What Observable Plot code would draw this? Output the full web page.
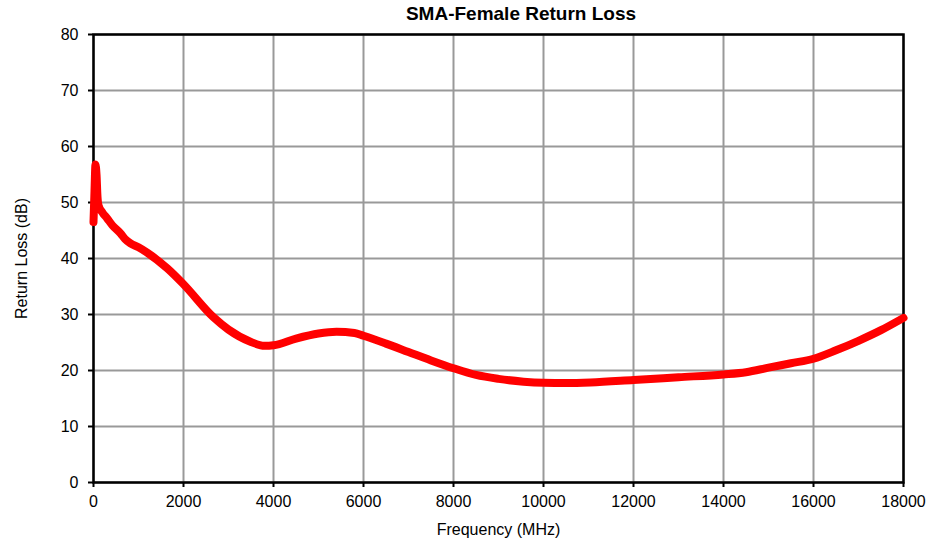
<!DOCTYPE html>
<html>
<head>
<meta charset="utf-8">
<script src="https://cdn.jsdelivr.net/npm/d3@7"></script>
<script src="https://cdn.jsdelivr.net/npm/@observablehq/plot@0.6"></script>
<style>
  html, body { margin: 0; padding: 0; background: #fff; }
  #wrap { width: 930px; height: 542px; position: relative; font-family: "Liberation Sans", Arial, sans-serif; }
  #title { height: 26px; box-sizing: border-box; padding-top: 4px; padding-left: 112px; text-align: center;
           font-weight: bold; font-size: 19px; line-height: 20px; color: #000; white-space: nowrap; }
</style>
</head>
<body>
<div id="wrap">
  <div id="title">SMA-Female Return Loss</div>
  <div id="chart"></div>
</div>
<script>
const title = "SMA-Female Return Loss";
const xLabel = "Frequency (MHz)";
const yLabel = "Return Loss (dB)";
const xTicks = [0, 2000, 4000, 6000, 8000, 10000, 12000, 14000, 16000, 18000];
const yTicks = [0, 10, 20, 30, 40, 50, 60, 70, 80];

const freq = [0, 22, 44, 67, 89, 111, 200, 300, 422, 600, 700, 822, 1000, 1200, 1644, 2000, 2667, 3000, 3500, 3800, 4000, 4500, 5000, 5400, 5800, 6000, 6500, 7000, 7500, 8000, 8500, 9000, 9556, 10000, 10500, 11044, 12000, 13000, 14000, 14500, 15000, 15500, 16000, 16500, 17000, 17500, 18000];
const returnLoss = [46.5, 52, 56.8, 55, 51, 49.5, 48.2, 47.2, 45.9, 44.5, 43.5, 42.7, 42, 41, 38.2, 35.4, 29.5, 27.3, 25.1, 24.4, 24.5, 25.7, 26.6, 26.9, 26.7, 26.2, 24.8, 23.3, 21.8, 20.4, 19.2, 18.5, 18.0, 17.8, 17.75, 17.85, 18.3, 18.8, 19.3, 19.7, 20.5, 21.3, 22.1, 23.6, 25.3, 27.2, 29.4];

const data = freq.map((f, i) => ({f, rl: returnLoss[i]}));

const chart = Plot.plot({
  width: 930,
  height: 516,
  marginLeft: 93,
  marginRight: 27,
  marginTop: 8,
  marginBottom: 60,
  style: { fontFamily: "'Liberation Sans', Arial, sans-serif", fontSize: "16px", color: "#000", background: "#fff" },
  x: { domain: [0, 18000], ticks: xTicks, tickFormat: d => String(d), label: null },
  y: { domain: [0, 80], ticks: yTicks, label: null },
  marks: [
    Plot.gridX(xTicks, { stroke: "#999", strokeOpacity: 1, strokeWidth: 2 }),
    Plot.gridY(yTicks, { stroke: "#999", strokeOpacity: 1, strokeWidth: 2 }),
    Plot.axisX(xTicks, { tickSize: 5, tickPadding: 8, stroke: "#000", strokeWidth: 2, tickFormat: d => String(d), label: xLabel, labelArrow: "none", labelAnchor: "center", labelOffset: 52, fontSize: 16 }),
    Plot.axisY(yTicks, { tickSize: 5, tickPadding: 10, stroke: "#000", strokeWidth: 2, label: yLabel, labelArrow: "none", labelAnchor: "center", labelOffset: 78, fontSize: 16 }),
    Plot.frame({ stroke: "#000", strokeWidth: 2.5 }),
    Plot.line(data, { x: "f", y: "rl", stroke: "#ff0000", strokeWidth: 8, curve: "monotone-x" })
  ]
});
document.getElementById("chart").appendChild(chart);
</script>
</body>
</html>
